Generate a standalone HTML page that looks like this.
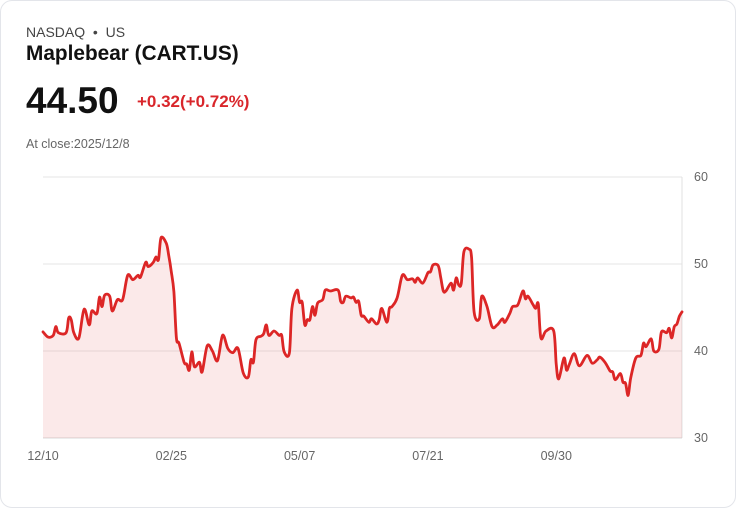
<!DOCTYPE html>
<html><head><meta charset="utf-8"><style>
body{margin:0;background:#fff;font-family:"Liberation Sans",sans-serif;}
.card{position:absolute;left:0;top:0;width:734px;height:506px;border:1px solid #e3e5ea;border-radius:12px;background:#fff;}
.t{position:absolute;white-space:nowrap;}
</style></head><body>
<div class="card">
<div class="t" style="left:25px;top:23px;font-size:14px;color:#444">NASDAQ &nbsp;•&nbsp; US</div>
<div class="t" style="left:25px;top:41px;font-size:20.8px;font-weight:bold;color:#111">Maplebear (CART.US)</div>
<div class="t" style="left:25px;top:79px;font-size:37px;font-weight:bold;color:#111">44.50</div>
<div class="t" style="left:136px;top:91px;font-size:17px;font-weight:bold;color:#d9262b">+0.32(+0.72%)</div>
<div class="t" style="left:25px;top:136px;font-size:12.5px;color:#666">At close:2025/12/8</div>
<svg id="chart" width="736" height="508" style="position:absolute;left:-1px;top:-1px"></svg>
</div>
<script>
const days=[0,2,4,5,6,9,10,11,12,14,16,18,19,21,22,23,24,26,27,29,31,33,35,37,38,40,41,43,44,45,46,48,49,50,51,52,53,55,56,57,58,59,61,62,64,66,68,70,72,74,76,78,80,81,82,83,85,86,87,88,90,92,93,94,96,97,99,100,101,102,103,104,105,106,107,109,110,112,115,116,117,118,120,121,122,123,124,125,127,128,130,131,132,134,135,136,138,140,142,144,145,146,148,150,151,152,154,155,156,157,159,160,161,162,163,164,166,167,168,170,171,173,175,177,179,180,182,183,185,187,188,189,191,192,193,194,196,199,200,201,203,204,205,207,209,212,214,216,217,219,221,222,223,225,226,227,228,229,231,233,234,235,237,238,240,241,243,244,245,246,247,248,249];
const prices=[42.2,41.6,41.8,42.8,42.1,42.1,43.8,43.6,42.1,41.5,44.8,43.0,44.6,44.3,46.2,45.1,46.4,46.3,44.6,45.9,45.9,48.7,48.2,48.7,48.5,50.2,49.7,50.2,50.8,50.5,53.0,52.4,51.0,49.1,46.8,41.5,40.9,38.7,38.5,37.8,39.9,38.2,38.7,37.6,40.6,40.0,38.9,41.8,40.3,39.8,40.3,37.5,37.0,39.0,38.7,41.3,41.7,42.0,43.0,41.8,42.3,41.8,41.8,39.9,39.8,44.9,47.0,45.6,45.6,43.0,43.6,43.6,45.1,44.1,45.5,45.9,47.0,46.9,47.0,45.7,45.6,46.3,46.1,46.2,45.6,45.7,44.1,44.0,43.3,43.7,43.1,43.6,44.9,43.3,44.9,45.1,46.1,48.7,48.2,48.3,47.9,48.4,47.8,49.0,49.1,49.9,49.8,48.4,46.9,46.9,47.8,47.0,48.4,47.6,47.8,51.4,51.7,50.7,44.5,43.7,46.3,45.1,42.8,43.0,43.7,43.3,44.4,45.1,45.3,46.9,46.0,46.3,45.3,44.9,45.4,41.5,42.3,42.3,38.4,36.8,39.2,37.8,38.4,39.7,38.3,39.5,38.6,39.0,39.3,38.7,37.7,37.6,36.7,37.4,36.4,36.3,34.9,36.9,39.2,39.5,40.9,40.5,41.4,40.0,40.2,42.2,42.1,42.6,41.5,42.8,43.1,44.0,44.5];
const tickDays=[0,50,100,150,200];
const tickLabels=["12/10","02/25","05/07","07/21","09/30"];
const yTicks=[30,40,50,60];
const X0=43,X1=682,Y0=438,Y1=177,N=249,VMIN=30,VMAX=60;
const sx=d=>X0+(X1-X0)*d/N;
const sy=v=>Y0-(Y0-Y1)*(v-VMIN)/(VMAX-VMIN);
const svg=document.getElementById('chart');
const NS='http://www.w3.org/2000/svg';
function mk(tag,attrs){const e=document.createElementNS(NS,tag);for(const k in attrs)e.setAttribute(k,attrs[k]);svg.appendChild(e);return e;}
yTicks.forEach(v=>{
  const l=mk('line',{x1:X0,x2:X1,y1:sy(v),y2:sy(v),stroke:v===30?'#d8d8d8':'#e6e6e6','stroke-width':1});
  
  
  const t=mk('text',{x:694,y:sy(v)+4,'font-size':12.5,fill:'#666','font-family':'Liberation Sans, sans-serif'});
  t.textContent=v;
  
  
});
const ax=mk('line',{x1:X1,x2:X1,y1:Y1,y2:Y0,stroke:'#e0e0e0','stroke-width':1});


tickDays.forEach((d,i)=>{
  const t=mk('text',{x:sx(d),y:460,'font-size':12.5,fill:'#666','text-anchor':'middle','font-family':'Liberation Sans, sans-serif'});
  t.textContent=tickLabels[i];
  
  
});
const P=days.map((d,i)=>[sx(d),sy(prices[i])]);
let curve='M'+P[0][0].toFixed(1)+','+P[0][1].toFixed(1);
for(let i=0;i<P.length-1;i++){
  const p0=P[Math.max(0,i-1)],p1=P[i],p2=P[i+1],p3=P[Math.min(P.length-1,i+2)];
  const c1=[p1[0]+(p2[0]-p0[0])/6,p1[1]+(p2[1]-p0[1])/6];
  const c2=[p2[0]-(p3[0]-p1[0])/6,p2[1]-(p3[1]-p1[1])/6];
  curve+=' C'+c1[0].toFixed(1)+','+c1[1].toFixed(1)+' '+c2[0].toFixed(1)+','+c2[1].toFixed(1)+' '+p2[0].toFixed(1)+','+p2[1].toFixed(1);
}
const area=mk('path',{d:curve+' L'+P[P.length-1][0]+','+Y0+' L'+P[0][0]+','+Y0+' Z',fill:'rgba(220,38,38,0.1)'});


const line=mk('path',{d:curve,fill:'none',stroke:'#dc2626','stroke-width':2.8,'stroke-linejoin':'round','stroke-linecap':'round'});


</script>
</body></html>
